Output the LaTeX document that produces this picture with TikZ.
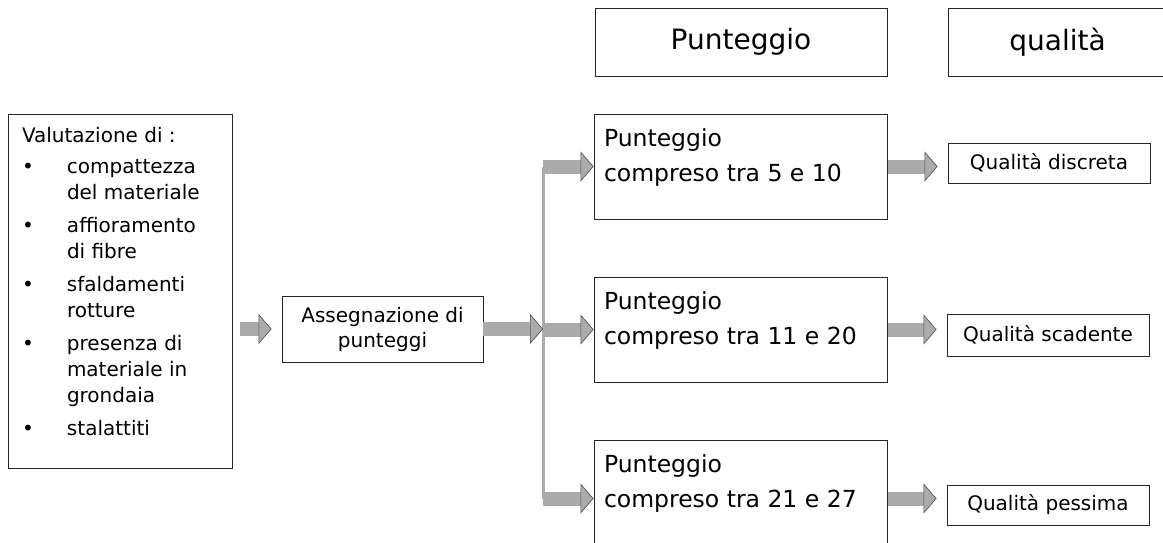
\documentclass[tikz,border=0pt]{standalone}
\usepackage{fontspec}
\setmainfont{DejaVu Sans}
\usetikzlibrary{arrows.meta}
\tikzset{
  cell/.style={draw=black!85, line width=0.9pt, inner sep=0pt},
  hbox/.style={cell, font=\fontsize{28}{34}\selectfont, minimum height=68pt},
  pbox/.style={cell, inner xsep=10pt, inner ysep=8pt, font=\fontsize{23.5}{35}\selectfont},
  qbox/.style={cell, font=\fontsize{20}{25}\selectfont, minimum width=202pt, minimum height=40pt},
  fat/.style={line width=14pt, draw=black!33, -{Triangle[length=13pt, width=30pt, line width=0.6pt, color=black!70, fill=black!33]}},
  trunk/.style={line width=3pt, draw=black!33}
}
\newcommand{\pcell}[2][89pt]{\parbox[c][#1][t]{273pt}{\strut #2}}
\begin{document}
\begin{tikzpicture}[x=1pt, y=-1pt]
\useasboundingbox (0,0) rectangle (1163,542);
\node[hbox, minimum width=292pt] (hp) at (741,42) {Punteggio};
\node[hbox, minimum width=219pt] (hq) at (1057.5,42) {qualità};
\node[cell, inner xsep=14pt, inner ysep=10pt, font=\fontsize{20}{26}\selectfont] (val) at (120,291) {\parbox[c][334pt][t]{196pt}{%
  \begin{tabular}[t]{@{}p{45pt}@{}l@{}}
  \multicolumn{2}{@{}l@{}}{Valutazione di :}\\[5pt]
  \textbullet & compattezza\\
   & del materiale\\[7pt]
  \textbullet & affioramento\\
   & di fibre\\[7pt]
  \textbullet & sfaldamenti\\
   & rotture\\[7pt]
  \textbullet & presenza di\\
   & materiale in\\
   & grondaia\\[7pt]
  \textbullet & stalattiti
  \end{tabular}}};
\node[cell, align=center, minimum width=201pt, minimum height=66pt, font=\fontsize{20}{25}\selectfont] (ass) at (382.5,329) {Assegnazione di\\punteggi};
\coordinate (split) at (543,329);
\node[pbox] (p1) at (740.5,166.5) {\pcell{Punteggio\\compreso tra 5 e 10}};
\node[pbox] (p2) at (740.5,329.5) {\pcell{Punteggio\\compreso tra 11 e 20}};
\node[pbox] (p3) at (740.5,498.5) {\pcell[101pt]{Punteggio\\compreso tra 21 e 27}};
\node[qbox] (q1) at (1049,163) {Qualità discreta};
\node[qbox, minimum height=42pt] (q2) at (1048,335) {Qualità scadente};
\node[qbox] (q3) at (1048,505) {Qualità pessima};
\draw[trunk] (split |- p1.west) -- (split |- p3.west);
\draw[fat, shorten <=8pt, shorten >=10pt] (val.east |- ass.west) -- (ass.west);
\draw[fat] (ass.east) -- (split);
\foreach \n in {p1,p2,p3}
  \draw[fat] (split |- \n.west) -- (\n.west);
\foreach \n/\m in {p1/q1,p2/q2,p3/q3}
  \draw[fat, shorten <=1pt, shorten >=10pt] (\n.east) -- (\m.west |- \n.east);
\end{tikzpicture}
\end{document}
